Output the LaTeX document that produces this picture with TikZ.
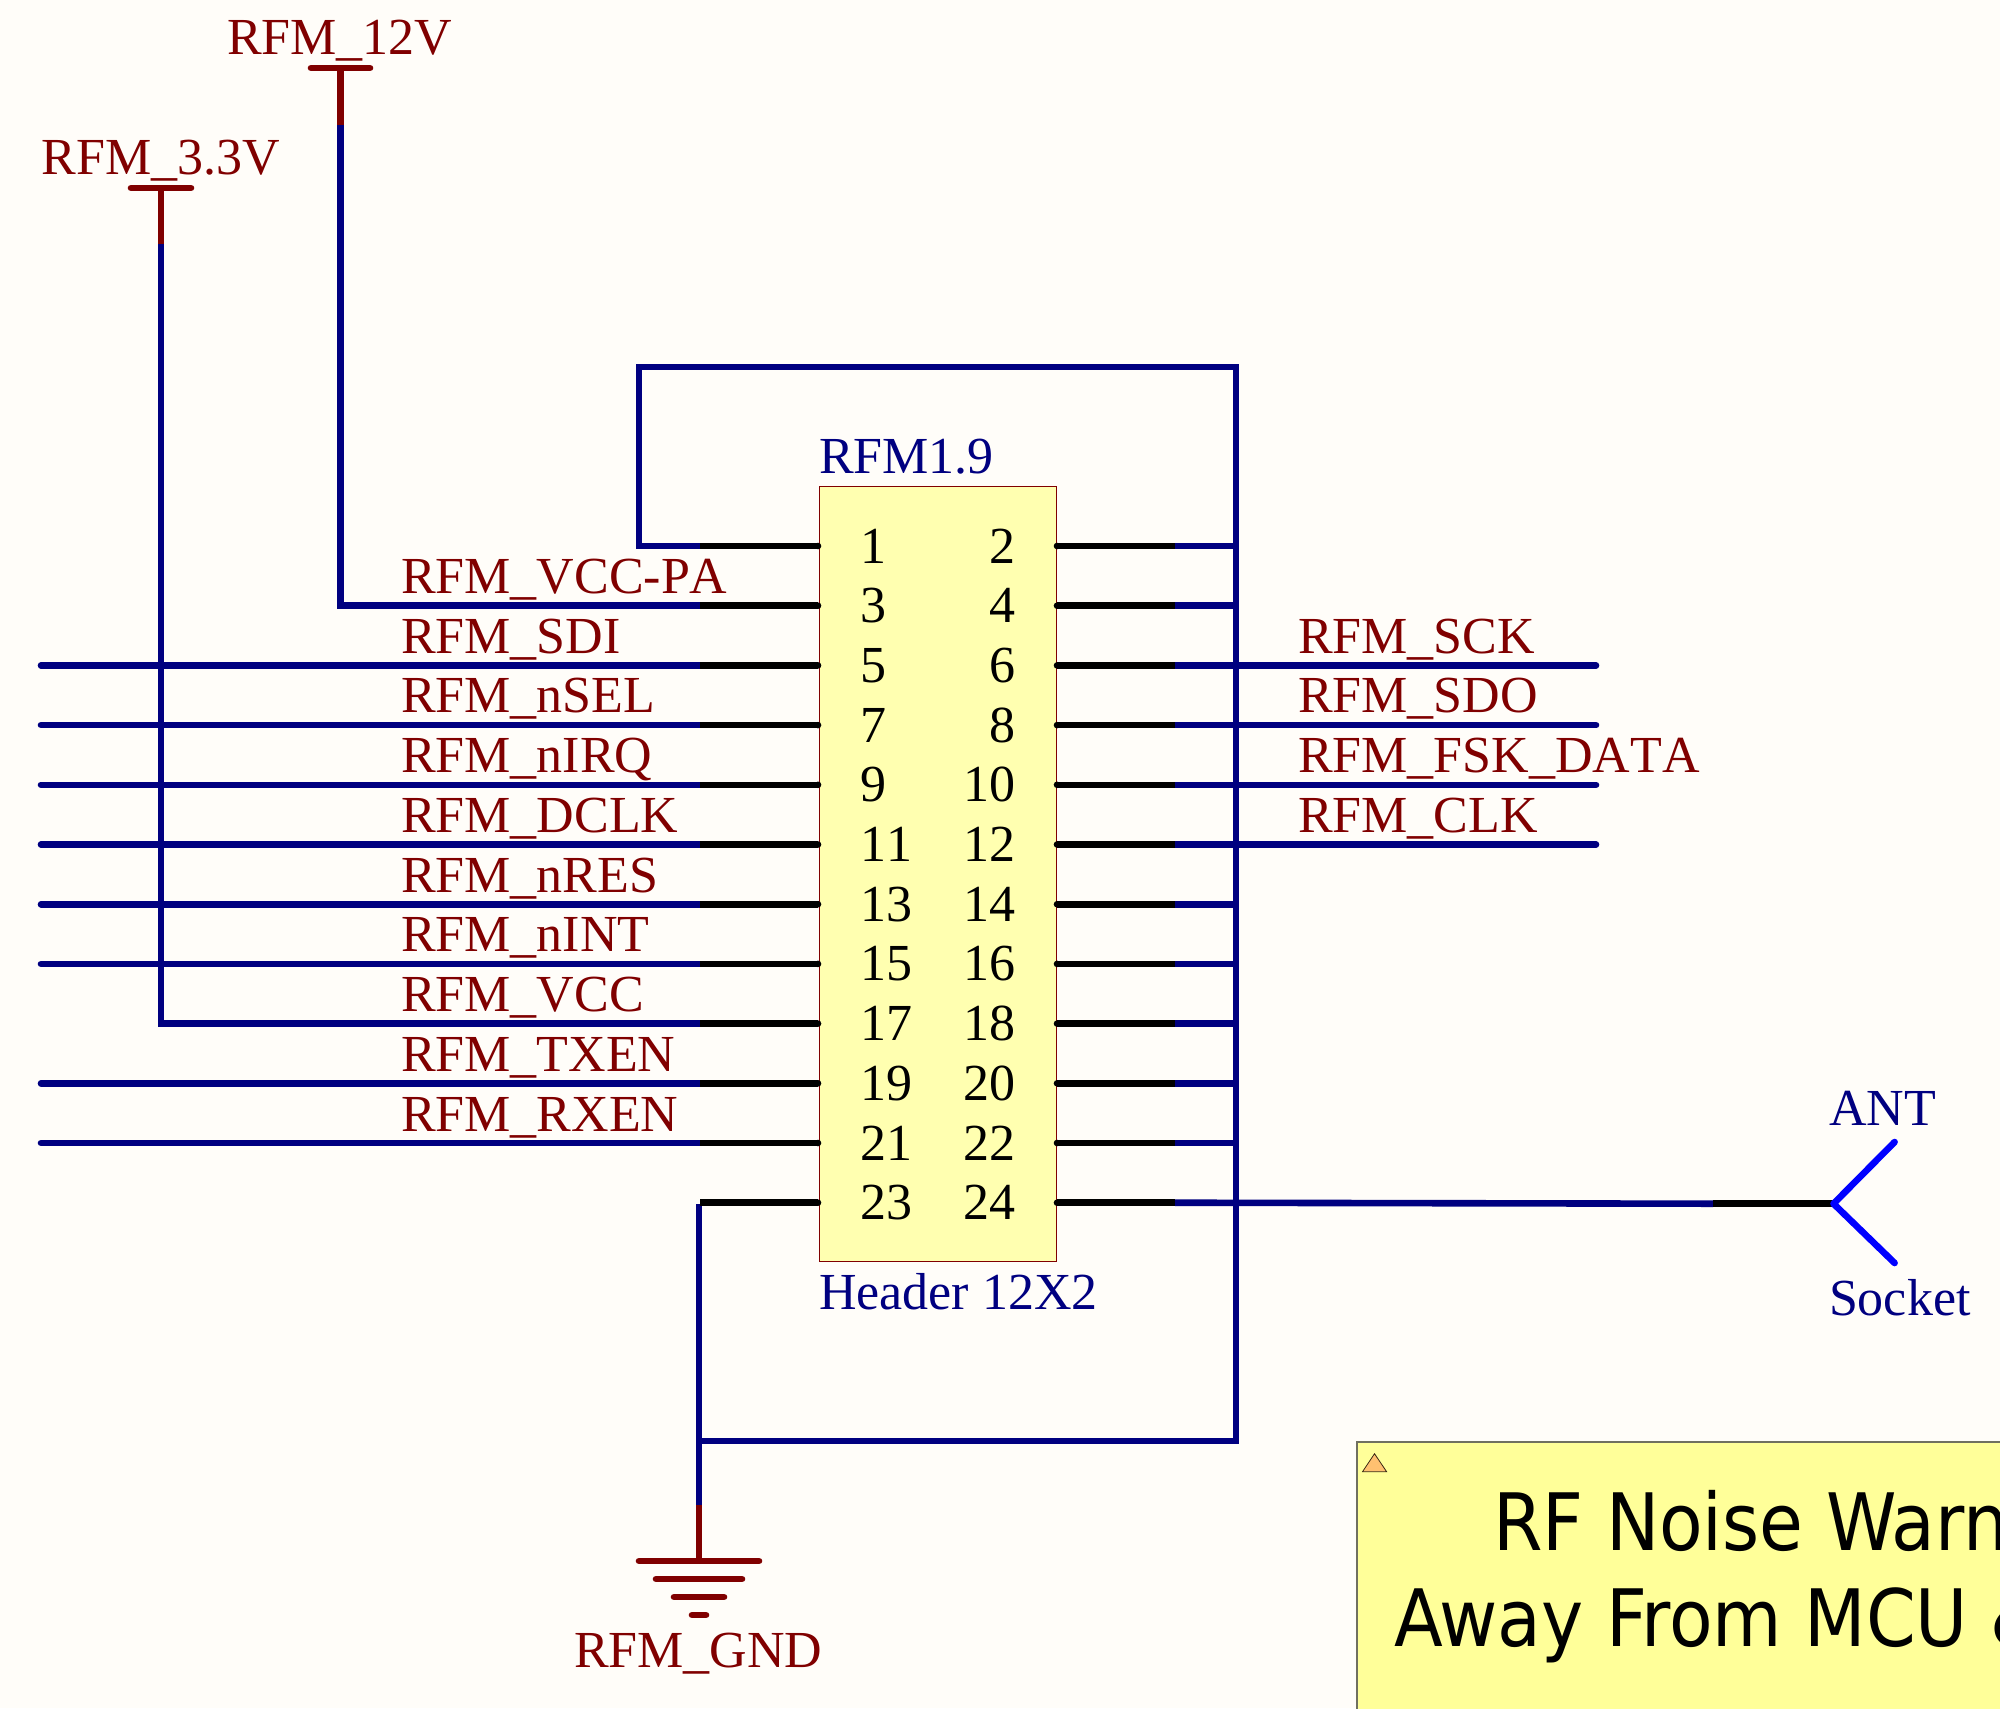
\documentclass[tikz,border=0pt]{standalone}
\usepackage{fontspec}
\setmainfont[Kerning=Off]{Liberation Serif}
\newfontfamily\notefont{DejaVu Sans Condensed}
\definecolor{sheet}{HTML}{FFFDF9}
\definecolor{netred}{HTML}{800000}
\definecolor{wireblue}{HTML}{000080}
\definecolor{antblue}{HTML}{0000FF}
\definecolor{partfill}{HTML}{FFFFB0}
\definecolor{notefill}{HTML}{FFFF99}
\definecolor{noteedge}{HTML}{707060}
\definecolor{warnfill}{HTML}{FFC070}
\tikzset{
  x=0.5pt,y=-0.5pt,
  wire/.style={draw=wireblue,line width=3.3pt,line join=miter},
  pinline/.style={draw=black,line width=3.3pt,line cap=butt},
  powerline/.style={draw=netred,line width=3.3pt},
  powerbar/.style={draw=netred,line width=3.3pt,line cap=round},
  antline/.style={draw=antblue,line width=3.3pt,line cap=round},
  txt/.style={inner sep=0pt,outer sep=0pt,anchor=base west,font=\fontsize{26}{26}\selectfont},
  netlabel/.style={txt,text=netred},
  partlabel/.style={txt,text=wireblue},
  pinnum/.style={txt,text=black},
  pinnumr/.style={txt,anchor=base east,text=black},
  notetext/.style={inner sep=0pt,outer sep=0pt,anchor=base west,text=black,font=\notefont\fontsize{39.6}{39.6}\selectfont},
}
\begin{document}
\begin{tikzpicture}
\useasboundingbox (0,0) rectangle (2000,1708);
\clip (0,0) rectangle (2000,1708);
\fill[sheet] (0,0) rectangle (2000,1708);

% row coordinates
\foreach \r in {1,...,12}{
  \pgfmathsetmacro{\yy}{546+59.7*(\r-1)}
  \coordinate (LP\r) at (818,\yy);
  \coordinate (LJ\r) at (700,\yy);
  \coordinate (LE\r) at (41,\yy);
  \coordinate (RP\r) at (1057,\yy);
  \coordinate (RJ\r) at (1175,\yy);
  \coordinate (RB\r) at (1236,\yy);
  \coordinate (RE\r) at (1596,\yy);
}
\coordinate (loopA) at (639,367);
\coordinate (loopB) at (1236,367);
\coordinate (busEnd) at (1236,1441);
\coordinate (gndT) at (699,1441);
\coordinate (gndW) at (699,1505);
\coordinate (gndTop) at (699,1203.7);
\coordinate (gnd1) at (699,1561);
\coordinate (p12top) at (340.5,68);
\coordinate (p12w) at (340.5,125);
\coordinate (p33top) at (161,188);
\coordinate (p33w) at (161,244);
\coordinate (antJ) at (1833.5,1203.7);
\coordinate (antK) at (1713,1203.7);

% part body
\node[draw=netred,fill=partfill,line width=0.6pt,minimum width=118.5pt,minimum height=387.5pt,inner sep=0pt,anchor=north west] (part) at (818.5,486) {};

% wires
\draw[wire] (LJ1) -| (loopA) |- (loopB) -- (busEnd) -- (gndT);
\draw[wire] (p12w) |- (LJ2);
\draw[wire] (p33w) |- (LJ9);
\foreach \r in {3,4,5,6,7,8,10,11}{ \draw[wire,line cap=round] (LE\r) -- (LJ\r); }
\foreach \r in {3,4,5,6}{ \draw[wire,line cap=round] (RJ\r) -- (RE\r); }
\foreach \r in {1,2,7,8,9,10,11}{ \draw[wire] (RJ\r) -- (RB\r); }
\draw[wire] (RJ12) -- (antK);
\draw[wire,line cap=square] (gndTop) -- (gndW);

% pins
\foreach \r in {1,...,12}{
  \draw[pinline] (LP\r) -- (LJ\r);
  \draw[pinline] (RP\r) -- (RJ\r);
  \fill[black] (LP\r) circle (1.65pt);
  \fill[black] (RP\r) circle (1.65pt);
}
\draw[pinline] (antK) -- (antJ);

% power ports
\draw[powerline] (p12top) -- (p12w);
\draw[powerbar] (311,68) -- (370,68);
\draw[powerline] (p33top) -- (p33w);
\draw[powerbar] (131,188) -- (191,188);
\draw[powerline] (gndW) -- (gnd1);
\draw[powerbar] (639,1561) -- (759,1561);
\draw[powerbar] (656,1579) -- (742,1579);
\draw[powerbar] (674,1597) -- (724,1597);
\draw[powerbar] (692,1615) -- (706,1615);

% antenna
\draw[antline,line join=round] (1894.6,1142) -- (antJ) -- (1894.6,1263);

% note
\node[draw=noteedge,fill=notefill,line width=0.8pt,minimum width=400pt,minimum height=200pt,inner sep=0pt,anchor=north west] (note) at (1356,1441) {};
\draw[draw=black!70!brown,fill=warnfill,line width=0.4pt] (1362.5,1471.7) -- (1374.5,1453.7) -- (1386.6,1471.7) -- cycle;
\node[notetext] (noteA) at (1493,1550) {RF Noise Warning};
\node[notetext] (noteB) at (1394,1646) {Away From MCU \&};

% net labels
\node[netlabel] (n12v) at (227,54.5) {RFM\_12V};
\node[netlabel] (n33v) at (41.5,174) {RFM\_3.3V};
\node[netlabel] (ngnd) at (574,1667) {RFM\_GND};
\node[netlabel] (l3) at (401,593) {RFM\_VCC-PA};
\node[netlabel] (l5) at (401,653) {RFM\_SDI};
\node[netlabel] (l7) at (401,712.5) {RFM\_nSEL};
\node[netlabel] (l9) at (401,772) {RFM\_nIRQ};
\node[netlabel] (l11) at (401,832) {RFM\_DCLK};
\node[netlabel] (l13) at (401,892) {RFM\_nRES};
\node[netlabel] (l15) at (401,951.5) {RFM\_nINT};
\node[netlabel] (l17) at (401,1011) {RFM\_VCC};
\node[netlabel] (l19) at (401,1071) {RFM\_TXEN};
\node[netlabel] (l21) at (401,1131) {RFM\_RXEN};
\node[netlabel] (r6) at (1298,653) {RFM\_SCK};
\node[netlabel] (r8) at (1298,712.5) {RFM\_SDO};
\node[netlabel] (r10) at (1298,772) {RFM\_FSK\_DATA};
\node[netlabel] (r12) at (1298,832) {RFM\_CLK};

% part labels
\node[partlabel] (des) at (819,473) {RFM1.9};
\node[partlabel] (cmt) at (819,1309) {Header 12X2};
\node[partlabel] (ant) at (1829,1125) {ANT};
\node[partlabel] (sock) at (1829,1315) {Socket};

% pin numbers
\foreach \r/\a/\b in {1/1/2,2/3/4,3/5/6,4/7/8,5/9/10,6/11/12,7/13/14,8/15/16,9/17/18,10/19/20,11/21/22,12/23/24}{
  \node[pinnum] (na\a) at ([yshift=-8.5pt]LP\r -| 860,0) {\a};
  \node[pinnumr] (nb\b) at ([yshift=-8.5pt]RP\r -| 1015,0) {\b};
}
\end{tikzpicture}
\end{document}
